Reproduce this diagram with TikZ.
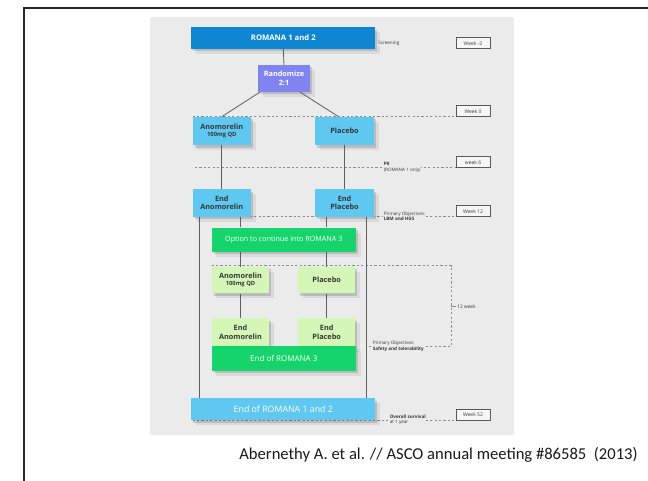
\documentclass[tikz,border=0pt]{standalone}
\usepackage{fontspec}
\setmainfont{Carlito}
\newfontfamily\diag{Open Sans}
\usetikzlibrary{shadows}

\definecolor{panel}{RGB}{235,235,235}
\definecolor{romblue}{RGB}{14,134,210}
\definecolor{randblue}{RGB}{128,132,240}
\definecolor{lblue}{RGB}{94,200,240}
\definecolor{bgreen}{RGB}{22,212,108}
\definecolor{lgreen}{RGB}{212,246,182}
\definecolor{ink}{RGB}{55,55,55}
\definecolor{conn}{RGB}{95,95,95}
\definecolor{dashc}{RGB}{140,140,140}

\pgfdeclarelayer{back}
\pgfdeclarelayer{lines}
\pgfsetlayers{back,lines,main}

\begin{document}
\begin{tikzpicture}[x=1pt,y=-1pt,
  softshadow/.style={
    drop shadow={shadow xshift=2pt,shadow yshift=-2.5pt,opacity=.22,fill=black!70},
    drop shadow={shadow xshift=4.5pt,shadow yshift=-5pt,opacity=.10,fill=black!70}},
  box/.style={draw=none,inner sep=1pt,align=center,softshadow,
    font=\diag\bfseries\fontsize{7.3}{8.6}\selectfont},
  darkbox/.style={box,text=white},
  lightbox/.style={box,text=ink},
  weekbox/.style={draw=black!65,line width=.5pt,fill=white!55!panel,
    minimum width=34pt,minimum height=11pt,inner sep=0pt,text=ink,
    font=\diag\fontsize{5}{5.5}\selectfont},
  note/.style={anchor=west,fill=panel,inner sep=.6pt,align=left,text=ink,
    font=\diag\fontsize{4.6}{5.6}\selectfont},
  conn/.style={draw=conn,line width=.8pt},
  dashline/.style={draw=dashc,line width=.8pt,dash pattern=on 2.2pt off 2.2pt}
]
\useasboundingbox (0,0) rectangle (648,481);

% page frame
\draw[line width=1.1pt,black!85] (24,481) -- (24,8) -- (648,8);

% grey panel
\begin{pgfonlayer}{back}
\fill[panel] (149.6,16.7) rectangle (513.6,435);
\end{pgfonlayer}

% week boxes
\node[weekbox] (wm2) at (473,43.2)  {Week -2};
\node[weekbox] (w0)  at (473,111.2) {Week 0};
\node[weekbox] (w6)  at (473,162.2) {week 6};
\node[weekbox] (w12) at (473,211.2) {Week 12};
\node[weekbox] (w52) at (473,414.5) {Week 52};

% reference points for the dashed time lines
\coordinate (pk0)  at (195,167.7);
\coordinate (brTL) at (211.6,265.7);
\coordinate (brTR) at (451,265.7);
\coordinate (brBR) at (451,346.5);
\coordinate (brBL) at (366,346.5);
\coordinate (brM)  at (451,306.7);

% study boxes
\node[darkbox,fill=romblue,minimum width=184pt,minimum height=21.4pt,
  font=\diag\bfseries\fontsize{7.7}{9}\selectfont] (rom12) at (283.3,38) {ROMANA 1 and 2};
\node[darkbox,fill=randblue,minimum width=52pt,minimum height=27pt] (rand) at (284,78.5) {Randomize\\2:1};

\node[lightbox,fill=lblue,minimum width=58.4pt,minimum height=28.3pt] (anoA) at (221.8,131)
  {Anomorelin\\[-1.5pt]{\fontsize{5.8}{6.5}\selectfont 100mg QD}};
\node[lightbox,fill=lblue,minimum width=59pt,minimum height=28.3pt] (plaA) at (344.5,131) {Placebo};
\node[lightbox,fill=lblue,minimum width=58.4pt,minimum height=27.7pt] (endA) at (221.8,202.9) {End\\Anomorelin};
\node[lightbox,fill=lblue,minimum width=59pt,minimum height=27.7pt] (endP) at (344.5,202.9) {End\\Placebo};

\node[darkbox,fill=bgreen,minimum width=144.4pt,minimum height=24pt,
  font=\diag\fontsize{7.2}{8.6}\selectfont] (opt) at (283.8,239.7)
  {Option to continue into ROMANA 3};
\node[lightbox,fill=lgreen,minimum width=57.8pt,minimum height=26.6pt] (anoB) at (240.5,280)
  {Anomorelin\\[-1.5pt]{\fontsize{5.8}{6.5}\selectfont 100mg QD}};
\node[lightbox,fill=lgreen,minimum width=57.4pt,minimum height=26.6pt] (plaB) at (326.7,280) {Placebo};
\node[lightbox,fill=lgreen,minimum width=57.8pt,minimum height=28.4pt] (endAB) at (240.5,332.5) {End\\Anomorelin};
\node[lightbox,fill=lgreen,minimum width=57.4pt,minimum height=28.4pt] (endPB) at (326.7,332.5) {End\\Placebo};
\node[darkbox,fill=bgreen,minimum width=144.4pt,minimum height=24.7pt,
  font=\diag\fontsize{8}{9}\selectfont] (rom3) at (283.8,358.4)
  {End of ROMANA 3};
\node[darkbox,fill=lblue,minimum width=184pt,minimum height=22pt,
  font=\diag\fontsize{8.8}{10}\selectfont] (rom12end) at (283.3,409)
  {End of ROMANA 1 and 2};

\begin{pgfonlayer}{lines}
% dashed time lines
\draw[dashline] (192.6,116.7) -- (192.6,116.7 -| w0.south west);
\draw[dashline] (pk0) -- (pk0 -| w6.west);
\draw[dashline] (192.6,216.7) -- (192.6,216.7 -| w12.west);
\draw[dashline] (brTL) -- (brTR) -- (brBR) -- (brBL);
\draw[dashline] (192.6,420.7) -- (192.6,420.7 -| w52.west);

% connectors
\draw[conn] (rom12.south) -- (rand.north);
\draw[conn] ([xshift=2pt]rand.south west) -- (anoA.north);
\draw[conn] ([xshift=-10pt]rand.south east) -- ([xshift=-6pt]plaA.north);
\draw[conn] (anoA.south) -- (endA.north);
\draw[conn] (plaA.south) -- (endP.north);
\draw[conn] (endA.south -| anoB.north) -- (opt.north -| anoB.north);
\draw[conn] (endP.south -| plaB.north) -- (opt.north -| plaB.north);
\draw[conn] (opt.south -| anoB.north) -- (anoB.north);
\draw[conn] (opt.south -| plaB.north) -- (plaB.north);
\draw[conn] (anoB.south) -- (endAB.north);
\draw[conn] (plaB.south) -- (endPB.north);
\draw[conn] ([xshift=7.4pt]endA.south west) -- ([xshift=7.4pt]endA.south west |- rom12end.north);
\draw[conn] ([xshift=-8.3pt]endP.south east) -- ([xshift=-8.3pt]endP.south east |- rom12end.north);
\end{pgfonlayer}

% 12-week bracket label
\draw[draw=dashc,line width=.6pt] (brM) -- ++(5,0)
  node[anchor=west,inner sep=1pt,text=ink,font=\diag\fontsize{4.8}{5.6}\selectfont] (twelve) {12 week};

% side notes
\node[note] (scr) at (377.5,43.6) {Screening};
\node[note] (pk)  at (383,167.7) {\textbf{PK}\\(ROMANA 1 only)};
\node[note] (po1) at (383,216.4) {Primary Objectives:\\\textbf{LBM and HGS}};
\node[note] (po2) at (372,346.5) {Primary Objectives:\\\textbf{Safety and tolerability}};
\node[note] (os)  at (389,419.8) {\textbf{Overall survival}\\at 1 year};

% citation
\node[font=\fontsize{16.6}{19}\selectfont,text=black!90] (cite) at (438.5,455)
  {Abernethy A. et al. // ASCO annual meeting \#86585~~(2013)};
\end{tikzpicture}
\end{document}
